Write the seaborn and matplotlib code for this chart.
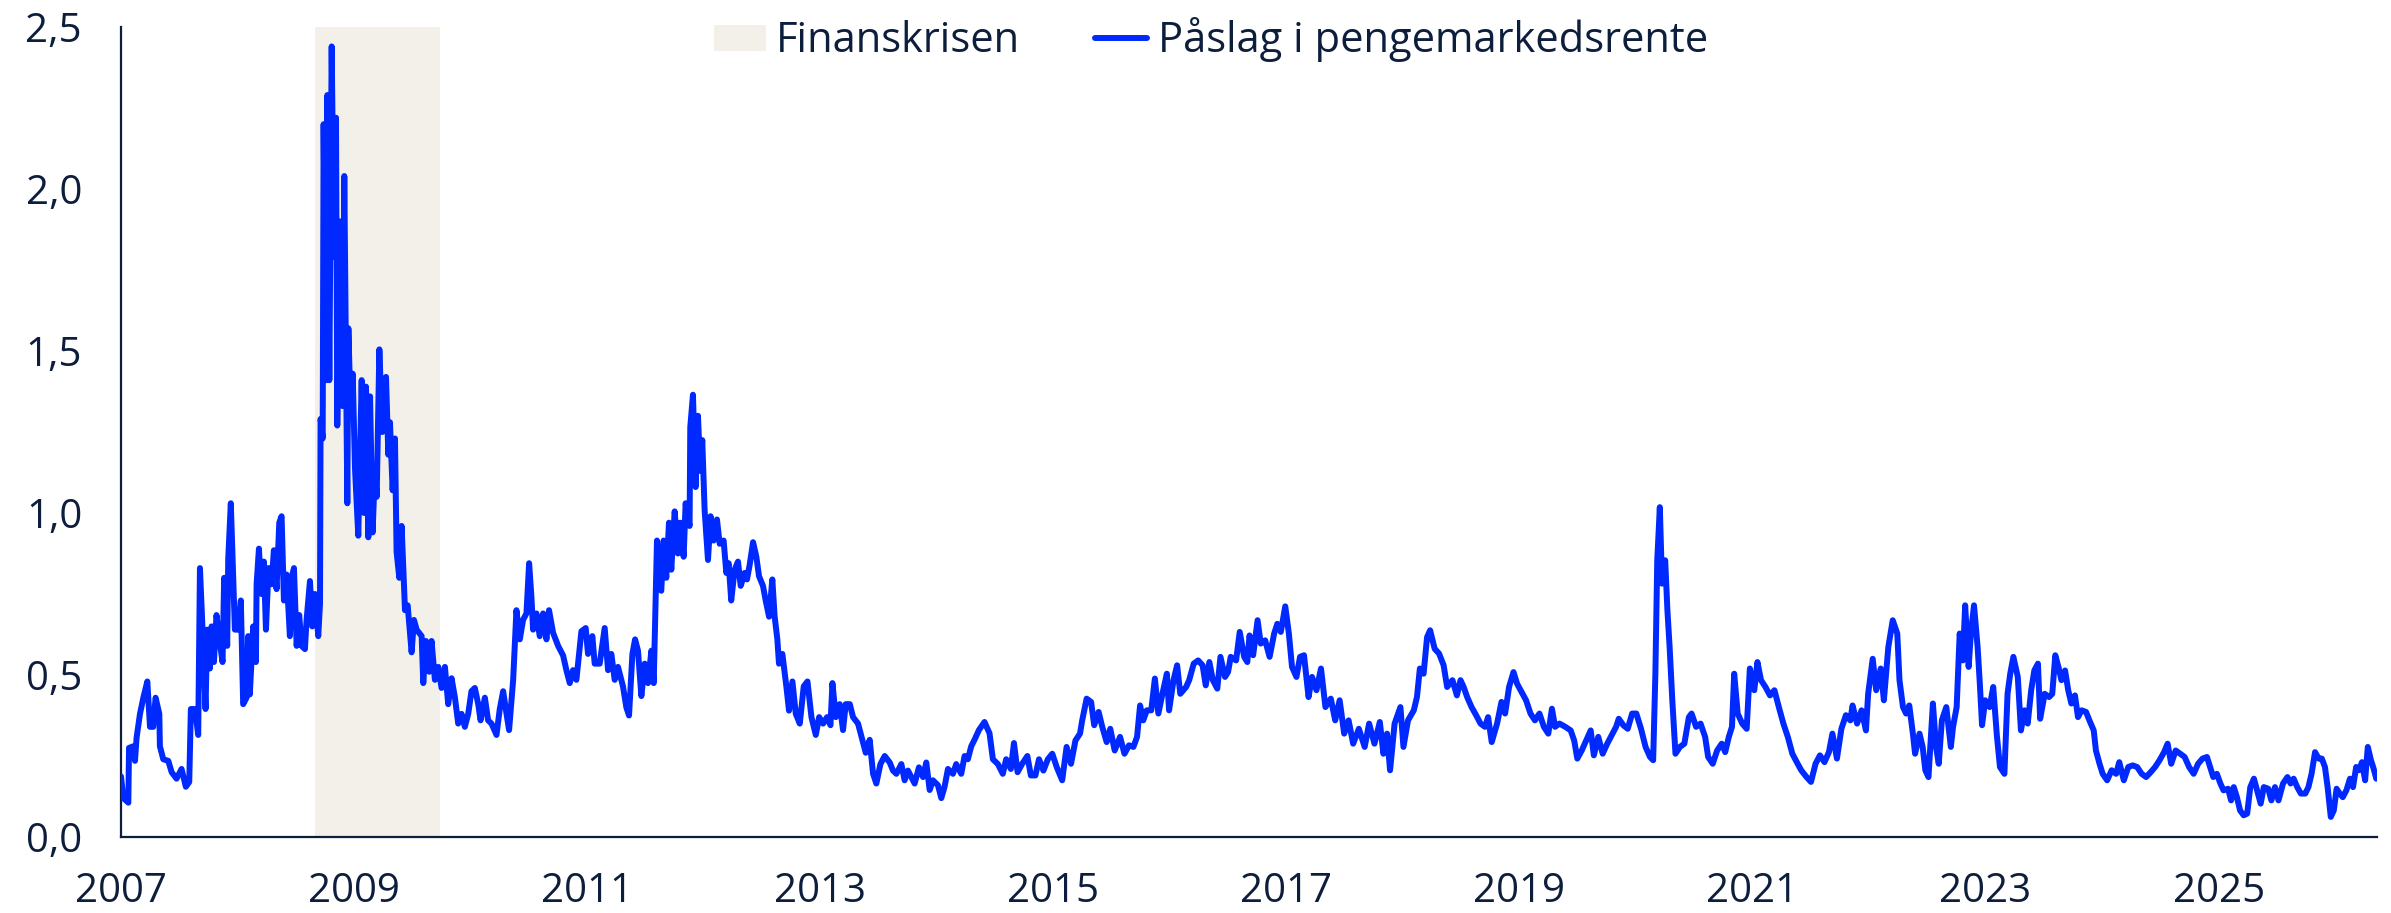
import matplotlib
matplotlib.use("Agg")
import matplotlib.pyplot as plt
from matplotlib.patches import Patch
from matplotlib.lines import Line2D
import seaborn as sns
import pandas as pd
import numpy as np

# ---------------- data (decimal year, spread in percentage points) ----------------
pre_crisis = [
    (2007.000, 0.187), (2007.020, 0.12), (2007.063, 0.106), (2007.069, 0.275), (2007.106, 0.28),
    (2007.120, 0.235), (2007.134, 0.307), (2007.163, 0.38), (2007.192, 0.43), (2007.226, 0.48),
    (2007.249, 0.34), (2007.277, 0.34), (2007.297, 0.43), (2007.329, 0.38), (2007.334, 0.28),
    (2007.363, 0.24), (2007.406, 0.235), (2007.435, 0.2), (2007.477, 0.18), (2007.520, 0.21),
    (2007.557, 0.155), (2007.586, 0.17), (2007.600, 0.395), (2007.635, 0.395), (2007.663, 0.315),
    (2007.678, 0.83), (2007.706, 0.59), (2007.726, 0.395), (2007.740, 0.64), (2007.763, 0.52),
    (2007.778, 0.65), (2007.798, 0.54), (2007.820, 0.685), (2007.849, 0.6), (2007.872, 0.54),
    (2007.886, 0.8), (2007.912, 0.59), (2007.921, 0.86), (2007.943, 1.03), (2007.963, 0.81),
    (2007.978, 0.64), (2008.006, 0.64), (2008.029, 0.73), (2008.049, 0.41), (2008.078, 0.43),
    (2008.092, 0.62), (2008.106, 0.44), (2008.135, 0.65), (2008.158, 0.54), (2008.164, 0.78),
    (2008.184, 0.89), (2008.206, 0.75), (2008.226, 0.85), (2008.244, 0.64), (2008.266, 0.83),
    (2008.292, 0.78), (2008.312, 0.885), (2008.335, 0.765), (2008.358, 0.97), (2008.378, 0.99),
    (2008.398, 0.73), (2008.421, 0.81), (2008.449, 0.62), (2008.464, 0.8), (2008.484, 0.83),
    (2008.507, 0.59), (2008.529, 0.685), (2008.549, 0.59), (2008.578, 0.58), (2008.592, 0.67),
    (2008.621, 0.79), (2008.641, 0.65), (2008.664, 0.75), (2008.692, 0.62), (2008.707, 0.72),
]

crisis = [
    (2008.712, 1.29), (2008.730, 1.23), (2008.738, 2.2), (2008.758, 1.41), (2008.770, 2.29),
    (2008.787, 1.41), (2008.807, 2.44), (2008.827, 1.79), (2008.844, 2.22), (2008.855, 1.27),
    (2008.878, 1.9), (2008.901, 1.33), (2008.915, 2.04), (2008.941, 1.03), (2008.950, 1.57),
    (2008.970, 1.3), (2008.987, 1.43), (2009.007, 1.135), (2009.035, 0.93), (2009.064, 1.41),
    (2009.084, 1.0), (2009.101, 1.39), (2009.121, 0.925), (2009.136, 1.36), (2009.158, 0.94),
    (2009.178, 1.135), (2009.193, 1.05), (2009.216, 1.505), (2009.241, 1.25), (2009.273, 1.42),
    (2009.293, 1.18), (2009.307, 1.28), (2009.330, 1.07), (2009.350, 1.23), (2009.364, 0.88),
    (2009.387, 0.8), (2009.407, 0.96), (2009.436, 0.7), (2009.459, 0.715), (2009.493, 0.57),
    (2009.513, 0.67), (2009.536, 0.64), (2009.579, 0.62), (2009.593, 0.475), (2009.616, 0.605),
    (2009.644, 0.51), (2009.664, 0.605), (2009.693, 0.485), (2009.722, 0.525), (2009.750, 0.46),
    (2009.779, 0.525), (2009.807, 0.41), (2009.836, 0.49), (2009.865, 0.43), (2009.893, 0.35),
    (2009.922, 0.38), (2009.950, 0.34), (2009.979, 0.38), (2010.007, 0.45), (2010.036, 0.46),
    (2010.065, 0.41), (2010.085, 0.36), (2010.122, 0.43), (2010.150, 0.36), (2010.179, 0.35),
    (2010.222, 0.315), (2010.250, 0.395), (2010.279, 0.45), (2010.308, 0.38), (2010.330, 0.33),
]

euro_crisis = [
    (2010.365, 0.485), (2010.393, 0.70), (2010.422, 0.61), (2010.450, 0.67), (2010.479, 0.69),
    (2010.502, 0.845), (2010.522, 0.74), (2010.536, 0.64), (2010.565, 0.69), (2010.593, 0.62),
    (2010.622, 0.69), (2010.651, 0.61), (2010.673, 0.70), (2010.708, 0.63), (2010.751, 0.59),
    (2010.794, 0.56), (2010.822, 0.515), (2010.851, 0.475), (2010.879, 0.515), (2010.908, 0.485),
    (2010.951, 0.635), (2010.988, 0.645), (2011.008, 0.565), (2011.045, 0.62), (2011.065, 0.535),
    (2011.108, 0.535), (2011.151, 0.645), (2011.180, 0.515), (2011.208, 0.565), (2011.237, 0.485),
    (2011.265, 0.525), (2011.308, 0.465), (2011.337, 0.40), (2011.360, 0.375), (2011.389, 0.565),
    (2011.412, 0.61), (2011.437, 0.575), (2011.466, 0.435), (2011.495, 0.535), (2011.523, 0.475),
    (2011.552, 0.575), (2011.572, 0.475), (2011.600, 0.915), (2011.637, 0.76), (2011.657, 0.915),
    (2011.680, 0.80), (2011.703, 0.97), (2011.723, 0.825), (2011.752, 1.005), (2011.780, 0.875),
    (2011.800, 0.97), (2011.829, 0.865), (2011.846, 1.03), (2011.880, 0.96), (2011.886, 1.265),
    (2011.909, 1.365), (2011.932, 1.08), (2011.952, 1.30), (2011.972, 1.13), (2011.989, 1.225),
    (2012.009, 1.01), (2012.038, 0.855), (2012.060, 0.99), (2012.086, 0.915), (2012.115, 0.98),
    (2012.138, 0.905), (2012.172, 0.915), (2012.195, 0.815), (2012.215, 0.845), (2012.237, 0.73),
    (2012.266, 0.825), (2012.295, 0.85), (2012.318, 0.775), (2012.352, 0.815), (2012.372, 0.795),
    (2012.395, 0.84), (2012.424, 0.91), (2012.452, 0.865), (2012.475, 0.805), (2012.509, 0.775),
    (2012.532, 0.73), (2012.561, 0.68), (2012.589, 0.795), (2012.609, 0.68), (2012.632, 0.61),
    (2012.646, 0.535), (2012.675, 0.565), (2012.709, 0.465), (2012.732, 0.39), (2012.761, 0.48),
    (2012.790, 0.38), (2012.824, 0.35), (2012.858, 0.465), (2012.890, 0.48), (2012.924, 0.37),
    (2012.961, 0.315), (2012.990, 0.37), (2013.024, 0.35), (2013.058, 0.37), (2013.087, 0.345),
    (2013.104, 0.475), (2013.133, 0.37), (2013.167, 0.41), (2013.195, 0.33), (2013.218, 0.41),
    (2013.253, 0.41), (2013.281, 0.37), (2013.324, 0.35), (2013.353, 0.31), (2013.390, 0.26),
    (2013.424, 0.30), (2013.453, 0.195), (2013.481, 0.165), (2013.516, 0.225), (2013.553, 0.25),
    (2013.596, 0.23), (2013.624, 0.205), (2013.653, 0.195), (2013.696, 0.225), (2013.724, 0.175),
    (2013.753, 0.205), (2013.782, 0.185), (2013.810, 0.165), (2013.847, 0.215), (2013.882, 0.185),
    (2013.910, 0.23), (2013.939, 0.145), (2013.967, 0.175), (2014.010, 0.16), (2014.039, 0.12),
    (2014.067, 0.155), (2014.096, 0.21), (2014.139, 0.195), (2014.167, 0.225), (2014.210, 0.195),
    (2014.239, 0.25), (2014.267, 0.24), (2014.296, 0.28), (2014.324, 0.30), (2014.362, 0.33),
    (2014.410, 0.355), (2014.453, 0.32), (2014.482, 0.24), (2014.525, 0.225), (2014.567, 0.195),
    (2014.596, 0.24),
]

mid_years = [
    (2014.636, 0.21), (2014.663, 0.29), (2014.694, 0.20), (2014.732, 0.225), (2014.778, 0.25),
    (2014.808, 0.19), (2014.847, 0.19), (2014.878, 0.24), (2014.916, 0.205), (2014.954, 0.24),
    (2014.992, 0.257), (2015.031, 0.215), (2015.077, 0.175), (2015.115, 0.278), (2015.153, 0.226),
    (2015.191, 0.298), (2015.230, 0.319), (2015.249, 0.36), (2015.287, 0.427), (2015.325, 0.417),
    (2015.352, 0.345), (2015.390, 0.386), (2015.421, 0.34), (2015.459, 0.293), (2015.490, 0.334),
    (2015.528, 0.267), (2015.574, 0.309), (2015.612, 0.257), (2015.651, 0.283), (2015.689, 0.278),
    (2015.720, 0.309), (2015.746, 0.406), (2015.773, 0.36), (2015.804, 0.391), (2015.842, 0.391),
    (2015.873, 0.489), (2015.903, 0.381), (2015.938, 0.442), (2015.976, 0.504), (2015.995, 0.391),
    (2016.033, 0.484), (2016.064, 0.53), (2016.091, 0.442), (2016.141, 0.463), (2016.167, 0.484),
    (2016.206, 0.535), (2016.244, 0.545), (2016.282, 0.53), (2016.309, 0.468), (2016.340, 0.54),
    (2016.370, 0.484), (2016.408, 0.458), (2016.435, 0.556), (2016.474, 0.494), (2016.500, 0.509),
    (2016.523, 0.556), (2016.569, 0.545), (2016.600, 0.633), (2016.638, 0.556), (2016.665, 0.54),
    (2016.684, 0.622), (2016.715, 0.561), (2016.753, 0.669), (2016.780, 0.597), (2016.818, 0.607),
    (2016.856, 0.556), (2016.895, 0.628), (2016.922, 0.658), (2016.952, 0.633), (2016.990, 0.712),
    (2017.021, 0.628), (2017.048, 0.525), (2017.086, 0.494), (2017.117, 0.556), (2017.151, 0.561),
    (2017.190, 0.432), (2017.220, 0.494), (2017.258, 0.453), (2017.297, 0.52), (2017.335, 0.401),
    (2017.381, 0.427), (2017.419, 0.36), (2017.457, 0.422), (2017.496, 0.319), (2017.534, 0.36),
    (2017.573, 0.288), (2017.622, 0.334), (2017.672, 0.278), (2017.710, 0.35), (2017.756, 0.288),
    (2017.802, 0.355), (2017.833, 0.257), (2017.864, 0.319), (2017.890, 0.206), (2017.929, 0.35),
    (2017.979, 0.401), (2018.005, 0.278), (2018.044, 0.36), (2018.094, 0.391), (2018.121, 0.432),
    (2018.146, 0.52), (2018.178, 0.504), (2018.208, 0.617), (2018.234, 0.638), (2018.273, 0.581),
    (2018.311, 0.566), (2018.350, 0.53), (2018.380, 0.463), (2018.426, 0.484), (2018.464, 0.437),
    (2018.495, 0.484), (2018.522, 0.463), (2018.552, 0.432), (2018.590, 0.401), (2018.629, 0.376),
    (2018.667, 0.35), (2018.705, 0.34), (2018.732, 0.37), (2018.763, 0.293), (2018.809, 0.35),
    (2018.847, 0.417), (2018.878, 0.381), (2018.912, 0.463), (2018.950, 0.509), (2018.981, 0.473),
    (2019.019, 0.448), (2019.058, 0.422), (2019.096, 0.381), (2019.134, 0.36), (2019.173, 0.381),
    (2019.211, 0.34), (2019.249, 0.319), (2019.280, 0.396), (2019.307, 0.34), (2019.345, 0.35),
    (2019.395, 0.34), (2019.441, 0.329), (2019.471, 0.298), (2019.498, 0.242), (2019.536, 0.267),
    (2019.575, 0.298), (2019.613, 0.329), (2019.640, 0.252), (2019.678, 0.309), (2019.716, 0.257),
    (2019.755, 0.288), (2019.793, 0.314), (2019.831, 0.34), (2019.854, 0.365), (2019.893, 0.345),
    (2019.931, 0.334), (2019.969, 0.381), (2020.005, 0.381), (2020.045, 0.334), (2020.084, 0.278),
    (2020.122, 0.247), (2020.149, 0.237), (2020.168, 0.504), (2020.184, 0.854), (2020.206, 1.018),
    (2020.225, 0.782), (2020.252, 0.854), (2020.271, 0.70), (2020.290, 0.586), (2020.313, 0.422),
    (2020.340, 0.257), (2020.378, 0.278), (2020.416, 0.288), (2020.455, 0.37),
]

recent = [
    (2020.478, 0.381), (2020.517, 0.34), (2020.555, 0.35), (2020.594, 0.309), (2020.620, 0.247),
    (2020.659, 0.226), (2020.697, 0.267), (2020.736, 0.288), (2020.766, 0.262), (2020.797, 0.309),
    (2020.824, 0.34), (2020.843, 0.504), (2020.873, 0.381), (2020.912, 0.35), (2020.950, 0.334),
    (2020.977, 0.52), (2021.015, 0.453), (2021.042, 0.54), (2021.073, 0.484), (2021.111, 0.463),
    (2021.150, 0.437), (2021.188, 0.453), (2021.226, 0.401), (2021.265, 0.35), (2021.303, 0.309),
    (2021.342, 0.257), (2021.380, 0.231), (2021.418, 0.206), (2021.464, 0.185), (2021.502, 0.17),
    (2021.541, 0.226), (2021.579, 0.252), (2021.618, 0.231), (2021.656, 0.262), (2021.686, 0.319),
    (2021.725, 0.242), (2021.763, 0.334), (2021.802, 0.376), (2021.840, 0.36), (2021.859, 0.406),
    (2021.898, 0.35), (2021.936, 0.391), (2021.974, 0.329), (2021.993, 0.442), (2022.032, 0.55),
    (2022.062, 0.453), (2022.101, 0.52), (2022.128, 0.422), (2022.166, 0.586), (2022.204, 0.669),
    (2022.243, 0.628), (2022.262, 0.484), (2022.292, 0.401), (2022.319, 0.381), (2022.346, 0.406),
    (2022.377, 0.319), (2022.396, 0.257), (2022.434, 0.319), (2022.461, 0.278), (2022.484, 0.206),
    (2022.511, 0.185), (2022.549, 0.412), (2022.576, 0.278), (2022.599, 0.226), (2022.626, 0.36),
    (2022.664, 0.401), (2022.703, 0.278), (2022.722, 0.34), (2022.753, 0.401), (2022.779, 0.628),
    (2022.806, 0.545), (2022.826, 0.715), (2022.856, 0.525), (2022.875, 0.628), (2022.902, 0.715),
    (2022.933, 0.586), (2022.952, 0.473), (2022.971, 0.345), (2022.998, 0.422), (2023.036, 0.401),
    (2023.067, 0.463), (2023.098, 0.314), (2023.125, 0.216), (2023.163, 0.195), (2023.190, 0.442),
    (2023.213, 0.504), (2023.240, 0.556), (2023.278, 0.494), (2023.305, 0.329), (2023.336, 0.391),
    (2023.363, 0.35), (2023.393, 0.453), (2023.420, 0.514), (2023.451, 0.535), (2023.470, 0.365),
    (2023.509, 0.442), (2023.547, 0.432), (2023.574, 0.442), (2023.600, 0.561), (2023.627, 0.525),
    (2023.653, 0.484), (2023.684, 0.514), (2023.711, 0.453), (2023.738, 0.412), (2023.769, 0.437),
    (2023.795, 0.37), (2023.826, 0.391), (2023.864, 0.386), (2023.893, 0.36), (2023.930, 0.329),
    (2023.949, 0.267), (2023.980, 0.226), (2024.007, 0.195), (2024.045, 0.175), (2024.084, 0.206),
    (2024.122, 0.195), (2024.149, 0.231), (2024.188, 0.175), (2024.226, 0.216), (2024.264, 0.221),
    (2024.302, 0.216), (2024.341, 0.195), (2024.379, 0.185), (2024.418, 0.2), (2024.456, 0.216),
    (2024.494, 0.237), (2024.533, 0.262), (2024.563, 0.288), (2024.594, 0.226), (2024.632, 0.267),
    (2024.670, 0.257), (2024.709, 0.247), (2024.747, 0.216), (2024.786, 0.195), (2024.824, 0.226),
    (2024.862, 0.242), (2024.900, 0.247), (2024.927, 0.216), (2024.954, 0.185), (2024.985, 0.195),
    (2025.015, 0.165), (2025.042, 0.144), (2025.081, 0.149), (2025.107, 0.113), (2025.130, 0.154),
    (2025.157, 0.123), (2025.184, 0.082), (2025.215, 0.067), (2025.245, 0.072), (2025.272, 0.154),
    (2025.303, 0.18), (2025.330, 0.144), (2025.361, 0.103), (2025.388, 0.154), (2025.426, 0.149),
    (2025.453, 0.113), (2025.484, 0.154), (2025.514, 0.113), (2025.553, 0.165), (2025.591, 0.185),
    (2025.618, 0.165), (2025.644, 0.18), (2025.675, 0.154), (2025.706, 0.134), (2025.744, 0.134),
    (2025.771, 0.154), (2025.798, 0.195), (2025.828, 0.262), (2025.859, 0.242), (2025.886, 0.242),
    (2025.913, 0.216), (2025.936, 0.154), (2025.963, 0.062), (2025.989, 0.082), (2026.013, 0.149),
    (2026.040, 0.134), (2026.066, 0.123), (2026.097, 0.144), (2026.128, 0.18), (2026.154, 0.154),
    (2026.181, 0.216), (2026.204, 0.206), (2026.231, 0.231), (2026.258, 0.175), (2026.281, 0.278),
    (2026.308, 0.237), (2026.327, 0.216), (2026.354, 0.18),
]

crisis_start = "2008-09-01"
crisis_end = "2009-09-28"
year_ticks = list(range(2007, 2026, 2))
y_ticks = [0.0, 0.5, 1.0, 1.5, 2.0, 2.5]
series_label = "Påslag i pengemarkedsrente"
shade_label = "Finanskrisen"

# ---------------- helpers ----------------
def to_date(y):
    yr = int(np.floor(y))
    start = pd.Timestamp(yr, 1, 1)
    length = (pd.Timestamp(yr + 1, 1, 1) - start).days
    return start + pd.Timedelta(days=(y - yr) * length)

points = pre_crisis + crisis + euro_crisis + mid_years + recent
df = pd.DataFrame(points, columns=["year", "spread"]).sort_values("year")
df["date"] = [to_date(y) for y in df["year"]]

# ---------------- style ----------------
sns.set_theme(style="white")
TEXT = "#0d1e3d"
LINE = "#0029ff"
SHADE = "#f3f0e9"
plt.rcParams["font.family"] = ["Open Sans", "DejaVu Sans"]
plt.rcParams["font.weight"] = "normal"

fig = plt.figure(figsize=(23.91, 9.13), dpi=100)
ax = fig.add_axes([121 / 2391, 76 / 913, (2377 - 121) / 2391, (837 - 27) / 913])

ax.axvspan(pd.Timestamp(crisis_start), pd.Timestamp(crisis_end), color=SHADE, lw=0, zorder=0)
sns.lineplot(data=df, x="date", y="spread", ax=ax, color=LINE, linewidth=4.3,
             estimator=None, sort=False, zorder=3)

ax.set_ylim(0, 2.5)
ax.set_xlim(pd.Timestamp("2007-01-01"), to_date(2026.36))
ax.set_yticks(y_ticks)
ax.set_yticklabels([f"{t:.1f}".replace(".", ",") for t in y_ticks])
ax.set_xticks([pd.Timestamp(f"{y}-01-01") for y in year_ticks])
ax.set_xticklabels([str(y) for y in year_ticks])
ax.set_xlabel("")
ax.set_ylabel("")

for s in ["top", "right"]:
    ax.spines[s].set_visible(False)
for s in ["left", "bottom"]:
    ax.spines[s].set_color(TEXT)
    ax.spines[s].set_linewidth(1.6)

ax.tick_params(axis="both", direction="in", length=10, width=1.4, color=TEXT,
               labelcolor=TEXT, labelsize=29)
ax.tick_params(axis="y", pad=28)
ax.tick_params(axis="x", pad=25)
ax.grid(False)

handles = [Patch(facecolor=SHADE, edgecolor="none", label=shade_label),
           Line2D([0], [0], color=LINE, lw=4.3, label=series_label)]
leg = ax.legend(handles=handles, loc="center", bbox_to_anchor=(0.483, 0.984), ncol=2,
                frameon=False, fontsize=30, handlelength=1.25, handleheight=0.6,
                handletextpad=0.25, columnspacing=1.8, labelcolor=TEXT)

fig.savefig("out.png", dpi=100, facecolor="white")
